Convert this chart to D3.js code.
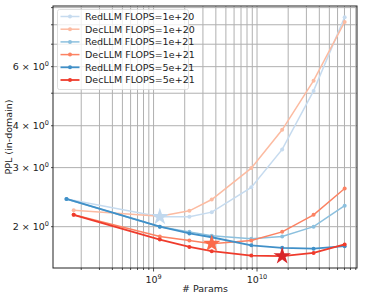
<!DOCTYPE html>
<html>
<head>
<meta charset="utf-8">
<script src="https://cdn.jsdelivr.net/npm/d3@7"></script>
<style>
	body { margin: 0; background: #fff; }
	text { font-family: "DejaVu Sans", sans-serif; fill: #222; }
</style>
</head>
<body>
<svg id="chart" width="365" height="302"></svg>
<script>
// model sizes (# params)
const redParams = [1.44e8, 1.15e9, 2.22e9, 3.65e9, 8.8e9, 1.75e10, 3.52e10, 7.03e10];
const decParams = [1.69e8, 1.15e9, 2.22e9, 3.65e9, 8.8e9, 1.75e10, 3.52e10, 7.03e10];

// PPL (in-domain)
const redFlops1e20 = [2.42, 2.14, 2.14, 2.21, 2.62, 3.40, 5.08, 8.43];
const decFlops1e20 = [2.24, 2.15, 2.23, 2.41, 2.99, 3.89, 5.45, 8.16];
const redFlops1e21 = [2.42, 2.00, 1.93, 1.88, 1.84, 1.87, 2.00, 2.31];
const decFlops1e21 = [2.17, 1.87, 1.82, 1.78, 1.82, 1.93, 2.17, 2.60];
const redFlops5e21 = [2.42, 2.00, 1.91, 1.86, 1.76, 1.73, 1.72, 1.75];
const decFlops5e21 = [2.17, 1.83, 1.74, 1.69, 1.64, 1.635, 1.67, 1.77];

const seriesNames = ['RedLLM FLOPS=1e+20', 'DecLLM FLOPS=1e+20', 'RedLLM FLOPS=1e+21',
	'DecLLM FLOPS=1e+21', 'RedLLM FLOPS=5e+21', 'DecLLM FLOPS=5e+21'];
const seriesColors = ['#c6dbef', '#fcbba1', '#8cc0de', '#fc8262', '#4090c8', '#ef3b2c'];

// optimum markers: series index, point index, colour
const starSeries = [0, 3, 5];
const starPoints = [1, 3, 5];
const starColors = ['#c0d8ee', '#fb6a4a', '#d9262a'];

const yTickValues = [2, 3, 4, 6];

const series = [
	{ x: redParams, y: redFlops1e20 },
	{ x: decParams, y: decFlops1e20 },
	{ x: redParams, y: redFlops1e21 },
	{ x: decParams, y: decFlops1e21 },
	{ x: redParams, y: redFlops5e21 },
	{ x: decParams, y: decFlops5e21 }
];

const margin = { left: 53, right: 8, top: 6, bottom: 34 };
const width = 365, height = 302;
const svg = d3.select('#chart');

const x = d3.scaleLog().domain([1.067e8, 9.25e10]).range([margin.left, width - margin.right]);
const y = d3.scaleLog().domain([1.506, 9.10]).range([height - margin.bottom, margin.top]);

const x0 = margin.left, x1 = width - margin.right;
const y0 = height - margin.bottom, y1 = margin.top;

// grid, both major and minor
const xGrid = x.ticks().filter(v => v >= x.domain()[0] && v <= x.domain()[1]);
const yGrid = y.ticks().filter(v => v >= y.domain()[0] && v <= y.domain()[1]);
const grid = svg.append('g');
grid.selectAll('line.vx').data(xGrid).join('line')
	.attr('x1', d => x(d)).attr('x2', d => x(d))
	.attr('y1', y0).attr('y2', y1)
	.attr('stroke', '#b0b0b0').attr('stroke-width', 1);
grid.selectAll('line.hy').data(yGrid).join('line')
	.attr('x1', x0).attr('x2', x1)
	.attr('y1', d => y(d)).attr('y2', d => y(d))
	.attr('stroke', '#b0b0b0').attr('stroke-width', 1);

// lines and markers
const line = d3.line().x(d => x(d[0])).y(d => y(d[1]));
series.forEach(function(s, i) {
	const pts = s.x.map((v, j) => [v, s.y[j]]);
	svg.append('path')
		.attr('d', line(pts))
		.attr('fill', 'none')
		.attr('stroke', seriesColors[i])
		.attr('stroke-width', i >= 4 ? 1.8 : 1.5);
	svg.append('g').selectAll('circle').data(pts).join('circle')
		.attr('cx', d => x(d[0])).attr('cy', d => y(d[1]))
		.attr('r', 2).attr('fill', seriesColors[i]);
});

// stars at the optimum
const star = d3.symbol().type(d3.symbolStar).size(95);
starSeries.forEach(function(si, k) {
	const s = series[si];
	const pi = starPoints[k];
	svg.append('path')
		.attr('d', star())
		.attr('transform', `translate(${x(s.x[pi])},${y(s.y[pi])})`)
		.attr('fill', starColors[k]);
});

// frame
svg.append('rect')
	.attr('x', x0).attr('y', y1)
	.attr('width', x1 - x0).attr('height', y0 - y1)
	.attr('fill', 'none').attr('stroke', '#222').attr('stroke-width', 1);

// x ticks
const xAxis = svg.append('g');
xAxis.selectAll('line').data(xGrid).join('line')
	.attr('x1', d => x(d)).attr('x2', d => x(d))
	.attr('y1', y0).attr('y2', d => y0 + (Math.abs(Math.log10(d) % 1) < 1e-9 ? 3.5 : 2))
	.attr('stroke', '#222').attr('stroke-width', 0.8);
const xMajor = xGrid.filter(d => Math.abs(Math.log10(d) % 1) < 1e-9);
const xl = xAxis.selectAll('text').data(xMajor).join('text')
	.attr('x', d => x(d)).attr('y', y0 + 15)
	.attr('text-anchor', 'middle').attr('font-size', 9.5);
xl.append('tspan').text('10');
xl.append('tspan').attr('dy', -4).attr('font-size', 6.5).text(d => Math.round(Math.log10(d)));

// y ticks
const yAxis = svg.append('g');
yAxis.selectAll('line').data(yGrid).join('line')
	.attr('x1', x0).attr('x2', x0 - 2)
	.attr('y1', d => y(d)).attr('y2', d => y(d))
	.attr('stroke', '#222').attr('stroke-width', 0.8);
const yl = yAxis.selectAll('text').data(yTickValues).join('text')
	.attr('x', x0 - 4).attr('y', d => y(d) + 3.5)
	.attr('text-anchor', 'end').attr('font-size', 9.5);
yl.append('tspan').text(d => d + ' × 10');
yl.append('tspan').attr('dy', -4).attr('font-size', 6.5).text('0');

// axis titles
svg.append('text')
	.attr('x', (x0 + x1) / 2).attr('y', height - 10)
	.attr('text-anchor', 'middle').attr('font-size', 9.5).text('# Params');
svg.append('text')
	.attr('transform', `translate(12,${(y0 + y1) / 2}) rotate(-90)`)
	.attr('text-anchor', 'middle').attr('font-size', 9.5).text('PPL (in-domain)');

// legend
const legend = svg.append('g').attr('transform', 'translate(57.5,9.5)');
legend.append('rect')
	.attr('width', 131).attr('height', 80).attr('rx', 2)
	.attr('fill', 'rgba(255,255,255,0.8)').attr('stroke', '#d6d6d6').attr('stroke-width', 0.8);
seriesNames.forEach(function(name, i) {
	const ly = 7 + i * 12.7;
	legend.append('line')
		.attr('x1', 3).attr('x2', 22).attr('y1', ly).attr('y2', ly)
		.attr('stroke', seriesColors[i]).attr('stroke-width', i >= 4 ? 1.8 : 1.5);
	legend.append('circle').attr('cx', 12.5).attr('cy', ly).attr('r', 2).attr('fill', seriesColors[i]);
	legend.append('text').attr('x', 27.5).attr('y', ly + 3.3).attr('font-size', 9.5).text(name);
});
</script>
</body>
</html>
